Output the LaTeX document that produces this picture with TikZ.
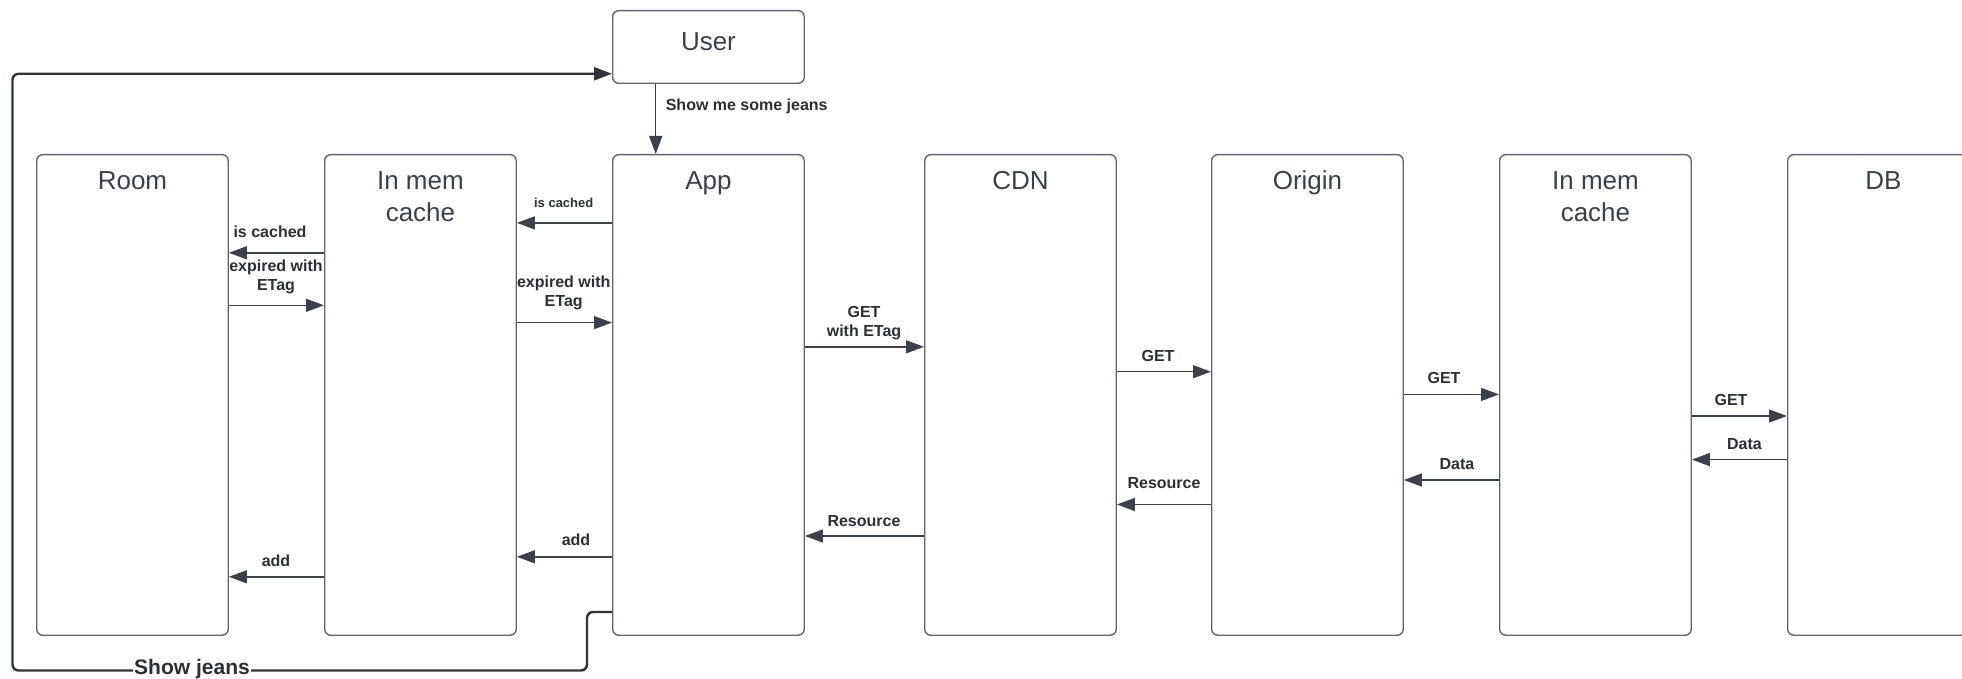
\documentclass[tikz,border=0pt]{standalone}
\usepackage{fontspec}
\setmainfont{Liberation Sans}
\usetikzlibrary{arrows.meta}
\definecolor{boxc}{HTML}{5F6670}
\definecolor{arrc}{HTML}{3A414A}
\definecolor{txtc}{HTML}{3A414A}
\definecolor{lblc}{HTML}{2B2F36}
\definecolor{loopc}{HTML}{2F343B}
\begin{document}
\begin{tikzpicture}[x=1pt,y=-1pt,
  lane/.style={draw=boxc, line width=1.4pt, rounded corners=6pt, minimum width=191.5pt, minimum height=480.5pt, anchor=north west, inner sep=0pt},
  userbox/.style={draw=boxc, line width=1.4pt, rounded corners=6pt, minimum width=191.5pt, minimum height=72.6pt, anchor=north west, inner sep=0pt},
  title/.style={font=\fontsize{26}{32}\selectfont, text=txtc, anchor=base, inner sep=0pt},
  lbl/.style={font=\fontsize{16}{19}\selectfont\bfseries, text=lblc, anchor=base, inner sep=0pt},
  smalllbl/.style={font=\fontsize{13}{16}\selectfont\bfseries, text=lblc, anchor=base, inner sep=0pt},
  arr/.style={draw=arrc, line width=1.4pt, -{Triangle[length=18pt,width=13pt]}},
  loopline/.style={draw=loopc, line width=2.4pt, rounded corners=6pt, -{Triangle[length=18pt,width=13pt]}},
  jeanslbl/.style={font=\fontsize{21}{25}\selectfont\bfseries, text=lblc, anchor=base, fill=white, inner xsep=1pt, inner ysep=0pt},
]
\fill[white] (0,0) rectangle (1962,679);
\useasboundingbox (0,0) rectangle (1962,679);

% boxes
\node[userbox] (user) at (612,10) {};
\node[lane] (room) at (36,154) {};
\node[lane] (cachea) at (324,154) {};
\node[lane] (app) at (612,154) {};
\node[lane] (cdn) at (924,154) {};
\node[lane] (origin) at (1211,154) {};
\node[lane] (cacheb) at (1499,154) {};
\node[lane] (db) at (1787,154) {};

% titles
\node[title] (tuser) at (user.north |- 0,51) {User};
\node[title] (troom) at (room.north |- 0,190) {Room};
\node[title] (tcachea1) at (cachea.north |- 0,190) {In mem};
\node[title] (tcachea2) at (cachea.north |- 0,222) {cache};
\node[title] (tapp) at (app.north |- 0,190) {App};
\node[title] (tcdn) at (cdn.north |- 0,190) {CDN};
\node[title] (torigin) at (origin.north |- 0,190) {Origin};
\node[title] (tcacheb1) at (cacheb.north |- 0,190) {In mem};
\node[title] (tcacheb2) at (cacheb.north |- 0,222) {cache};
\node[title] (tdb) at (db.north |- 0,190) {DB};

% user -> app
\draw[arr] (user.south -| 655.7,0) -- (app.north -| 655.7,0);
\node[lbl, anchor=base west] (l0) at (665.6,110.5) {Show me some jeans};

% room <-> cache a
\draw[arr] (cachea.west |- 0,252.8) -- (room.east |- 0,252.8);
\node[lbl] (l1) at (270,237) {is cached};
\draw[arr] (room.east |- 0,305.3) -- (cachea.west |- 0,305.3);
\node[lbl] (l2a) at (276,271) {expired with};
\node[lbl] (l2b) at (276,290) {ETag};
\draw[arr] (cachea.west |- 0,576.8) -- (room.east |- 0,576.8);
\node[lbl] (l3) at (276,566) {add};

% cache a <-> app
\draw[arr] (app.west |- 0,222.9) -- (cachea.east |- 0,222.9);
\node[smalllbl] (l4) at (563.7,207.5) {is cached};
\draw[arr] (cachea.east |- 0,322.6) -- (app.west |- 0,322.6);
\node[lbl] (l5a) at (563.7,287.5) {expired with};
\node[lbl] (l5b) at (563.7,306.5) {ETag};
\draw[arr] (app.west |- 0,556.8) -- (cachea.east |- 0,556.8);
\node[lbl] (l6) at (576,545.3) {add};

% app <-> cdn
\draw[arr] (app.east |- 0,346.8) -- (cdn.west |- 0,346.8);
\node[lbl] (l7a) at (864,317) {GET};
\node[lbl] (l7b) at (864,336) {with ETag};
\draw[arr] (cdn.west |- 0,536) -- (app.east |- 0,536);
\node[lbl] (l8) at (864,526) {Resource};

% cdn <-> origin
\draw[arr] (cdn.east |- 0,371.7) -- (origin.west |- 0,371.7);
\node[lbl] (l9) at (1158,361) {GET};
\draw[arr] (origin.west |- 0,504.5) -- (cdn.east |- 0,504.5);
\node[lbl] (l10) at (1164,488.5) {Resource};

% origin <-> cache b
\draw[arr] (origin.east |- 0,394.4) -- (cacheb.west |- 0,394.4);
\node[lbl] (l11) at (1444,383.5) {GET};
\draw[arr] (cacheb.west |- 0,480) -- (origin.east |- 0,480);
\node[lbl] (l12) at (1457,469.5) {Data};

% cache b <-> db
\draw[arr] (cacheb.east |- 0,416) -- (db.west |- 0,416);
\node[lbl] (l13) at (1731,405.5) {GET};
\draw[arr] (db.west |- 0,459.6) -- (cacheb.east |- 0,459.6);
\node[lbl] (l14) at (1744.5,449) {Data};

% show jeans loop
\coordinate (c1) at (587,612);
\coordinate (c2) at (587,670.5);
\coordinate (c3) at (12.5,670.5);
\coordinate (c4) at (12.5,73.8);
\draw[loopline] (app.west |- 0,612) -- (c1) -- (c2) -- (c3) -- (c4) -- (user.west |- 0,73.8);
\node[jeanslbl] (l15) at (192,674.5) {Show jeans};
\end{tikzpicture}
\end{document}
